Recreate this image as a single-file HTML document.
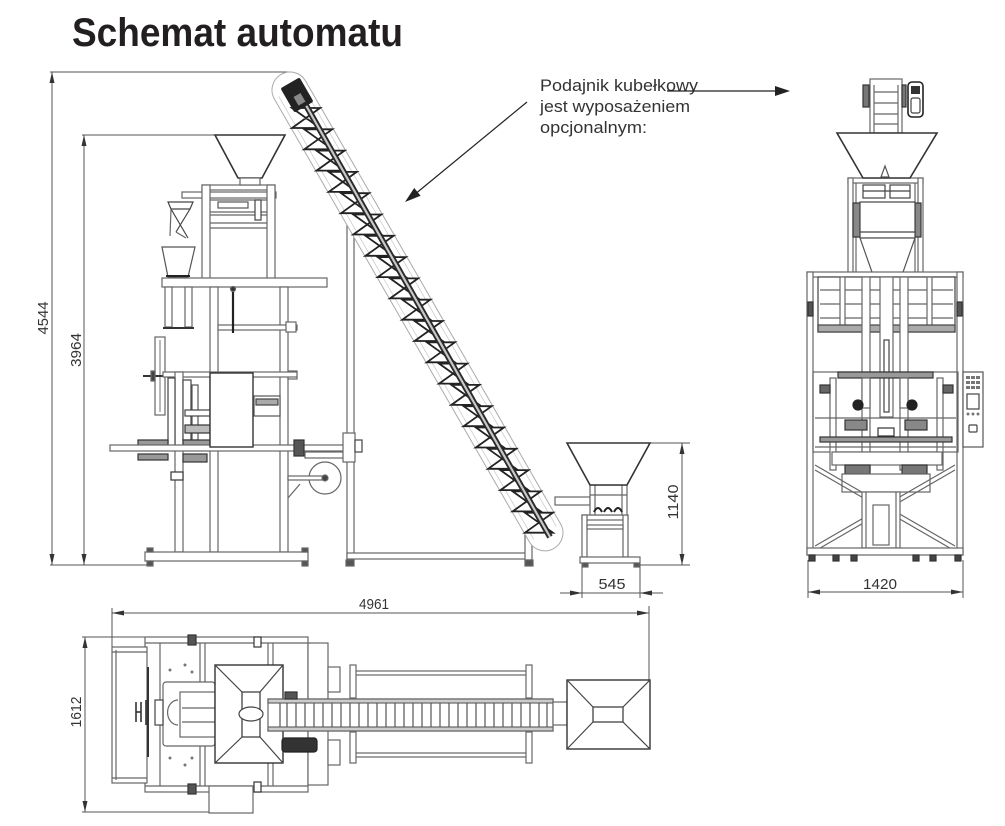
<!DOCTYPE html>
<html><head><meta charset="utf-8"><style>
html,body{margin:0;padding:0;background:#fff;}
body{width:1005px;height:826px;overflow:hidden;}
svg{display:block;}
</style></head><body>
<svg width="1005" height="826" viewBox="0 0 1005 826" xmlns="http://www.w3.org/2000/svg">
<rect width="1005" height="826" fill="#fff"/>

<!-- Title -->
<text x="72" y="46" font-family="Liberation Sans, sans-serif" font-weight="bold" font-size="40" textLength="331" lengthAdjust="spacingAndGlyphs" fill="#231f20">Schemat automatu</text>

<!-- Annotation -->
<g font-family="Liberation Sans, sans-serif" font-size="16.5" fill="#333">
<text x="540" y="91" textLength="158" lengthAdjust="spacingAndGlyphs">Podajnik kubełkowy</text>
<text x="540" y="112" textLength="150" lengthAdjust="spacingAndGlyphs">jest wyposażeniem</text>
<text x="540" y="133" textLength="107" lengthAdjust="spacingAndGlyphs">opcjonalnym:</text>
</g>
<line x1="667" y1="91" x2="776" y2="91" stroke="#222" stroke-width="1.2"/>
<polygon points="790,91 775,86 775,96" fill="#222"/>
<line x1="527" y1="102" x2="414" y2="195" stroke="#222" stroke-width="1.2"/>
<polygon points="405,202 420.6,195.8 414.2,188" fill="#222"/>

<!-- ============ DIMENSIONS ============ -->
<g stroke="#555" stroke-width="1" fill="none">
  <line x1="50" y1="72" x2="292" y2="72"/>
  <line x1="52" y1="72" x2="52" y2="565"/>
  <line x1="50" y1="565" x2="150" y2="565"/>
  <line x1="82" y1="135" x2="215" y2="135"/>
  <line x1="84" y1="135" x2="84" y2="565"/>
  <line x1="650" y1="443" x2="690" y2="443"/>
  <line x1="682" y1="443" x2="682" y2="565"/>
  <line x1="640" y1="565" x2="690" y2="565"/>
  <line x1="560" y1="593" x2="663" y2="593"/>
  <line x1="582" y1="560" x2="582" y2="598"/>
  <line x1="640" y1="563" x2="640" y2="598"/>
  <line x1="808" y1="592" x2="963" y2="592"/>
  <line x1="808" y1="560" x2="808" y2="598"/>
  <line x1="963" y1="560" x2="963" y2="598"/>
  <line x1="112" y1="613" x2="649" y2="613"/>
  <line x1="112" y1="608" x2="112" y2="647"/>
  <line x1="649" y1="606" x2="649" y2="680"/>
  <line x1="82" y1="637" x2="145" y2="637"/>
  <line x1="85" y1="637" x2="85" y2="812"/>
  <line x1="82" y1="812" x2="210" y2="812"/>
</g>
<g fill="#333">
  <polygon points="52,72 49.5,83 54.5,83"/>
  <polygon points="52,565 49.5,554 54.5,554"/>
  <polygon points="84,135 81.5,146 86.5,146"/>
  <polygon points="84,565 81.5,554 86.5,554"/>
  <polygon points="682,443 679.5,454 684.5,454"/>
  <polygon points="682,565 679.5,554 684.5,554"/>
  <polygon points="582,593 570,590.5 570,595.5"/>
  <polygon points="640,593 652,590.5 652,595.5"/>
  <polygon points="808,592 820,589.5 820,594.5"/>
  <polygon points="963,592 951,589.5 951,594.5"/>
  <polygon points="112,613 124,610.5 124,615.5"/>
  <polygon points="649,613 637,610.5 637,615.5"/>
  <polygon points="85,637 82.5,648 87.5,648"/>
  <polygon points="85,812 82.5,801 87.5,801"/>
</g>
<g font-family="Liberation Sans, sans-serif" font-size="15" fill="#333" text-anchor="middle">
  <text transform="translate(48 318) rotate(-90)" textLength="33" lengthAdjust="spacingAndGlyphs">4544</text>
  <text transform="translate(81 350) rotate(-90)" textLength="34" lengthAdjust="spacingAndGlyphs">3964</text>
  <text transform="translate(678 502) rotate(-90)" textLength="35" lengthAdjust="spacingAndGlyphs">1140</text>
  <text transform="translate(81 712) rotate(-90)" textLength="31" lengthAdjust="spacingAndGlyphs">1612</text>
  <text x="612" y="589" textLength="27" lengthAdjust="spacingAndGlyphs">545</text>
  <text x="880" y="589" textLength="34" lengthAdjust="spacingAndGlyphs">1420</text>
  <text x="374" y="609" textLength="30" lengthAdjust="spacingAndGlyphs">4961</text>
</g>

<!-- ============ LEFT MACHINE (side view) ============ -->
<g fill="#fff" stroke="#666" stroke-width="1.2">
  <rect x="182" y="192" width="94" height="6"/>
  <rect x="202" y="185" width="73" height="5"/>
  <rect x="202" y="185" width="8" height="94"/>
  <rect x="267" y="185" width="8" height="94"/>
  <line x1="210" y1="200" x2="267" y2="200"/>
  <line x1="210" y1="212" x2="267" y2="212"/>
  <line x1="210" y1="215" x2="267" y2="215"/>
  <line x1="210" y1="223" x2="267" y2="223"/>
  <line x1="210" y1="228" x2="267" y2="228"/>
  <rect x="255" y="200" width="6" height="20" stroke="#444"/>
  <rect x="218" y="202" width="30" height="6" stroke="#555"/>
  <polygon points="215,135 285,135 262,178 238,178" stroke="#333" stroke-width="1.6"/>
  <rect x="240" y="178" width="20" height="7"/>
  <polygon points="168,202 193,202 190,209 171,209" stroke="#444"/>
  <line x1="171" y1="209" x2="188" y2="238" stroke="#444"/>
  <line x1="190" y1="209" x2="176" y2="232" stroke="#444"/>
  <line x1="171" y1="209" x2="170" y2="236"/>
  <line x1="176" y1="232" x2="186" y2="238"/>
  <polygon points="162,247 195,247 188,277 168,277" stroke="#555"/>
  <line x1="166" y1="276" x2="190" y2="276" stroke="#222" stroke-width="2"/>
  <rect x="162" y="278" width="165" height="9"/>
  <rect x="165" y="287" width="7" height="40"/>
  <rect x="185" y="287" width="7" height="40"/>
  <line x1="163" y1="328" x2="194" y2="328" stroke="#333" stroke-width="2"/>
  <rect x="210" y="287" width="8" height="265"/>
  <rect x="280" y="287" width="8" height="265"/>
  <rect x="218" y="325" width="79" height="5"/>
  <rect x="286" y="322" width="10" height="10"/>
  <rect x="288" y="371" width="9" height="8"/>
  <line x1="233" y1="287" x2="233" y2="333" stroke="#222" stroke-width="2.2"/>
  <circle cx="233" cy="289" r="2.5" fill="#333"/>
  <rect x="155" y="337" width="10" height="78"/>
  <line x1="160" y1="340" x2="160" y2="412" stroke="#888"/>
  <line x1="143" y1="376" x2="172" y2="376" stroke="#333" stroke-width="2"/>
  <rect x="151" y="371" width="4" height="10" fill="#444"/>
  <rect x="163" y="372" width="134" height="5"/>
  <rect x="175" y="372" width="8" height="180"/>
  <rect x="168" y="378" width="7" height="70" stroke="#444"/>
  <rect x="183" y="380" width="8" height="60" stroke="#444"/>
  <rect x="192" y="385" width="6" height="55" stroke="#555"/>
  <rect x="185" y="410" width="25" height="6" stroke="#444"/>
  <rect x="185" y="425" width="25" height="8" fill="#bbb" stroke="#333"/>
  <rect x="138" y="440" width="30" height="6" fill="#999" stroke="#333"/>
  <rect x="183" y="440" width="27" height="6" fill="#999" stroke="#333"/>
  <rect x="138" y="454" width="30" height="6" fill="#999" stroke="#333"/>
  <rect x="183" y="454" width="24" height="8" fill="#999" stroke="#333"/>
  <rect x="171" y="472" width="12" height="8" stroke="#333"/>
  <rect x="110" y="445" width="240" height="6"/>
  <rect x="210" y="373" width="43" height="74" stroke="#333" stroke-width="1.4"/>
  <rect x="254" y="396" width="26" height="20" stroke="#555"/>
  <rect x="256" y="399" width="22" height="6" fill="#aaa" stroke="#444"/>
  <circle cx="325" cy="478" r="16"/>
  <rect x="288" y="476" width="38" height="4"/>
  <circle cx="325" cy="478" r="3" fill="#444"/>
  <line x1="288" y1="498" x2="300" y2="484"/>
  <rect x="294" y="440" width="10" height="16" fill="#555" stroke="#333"/>
  <rect x="305" y="452" width="40" height="6"/>
  <rect x="145" y="552" width="163" height="9"/>
  <rect x="147" y="548" width="6" height="4" fill="#555"/>
  <rect x="302" y="548" width="6" height="4" fill="#555"/>
  <rect x="147" y="561" width="6" height="5" fill="#555"/>
  <rect x="302" y="561" width="6" height="5" fill="#555"/>
</g>

<!-- ============ CONVEYOR ============ -->
<g fill="#fff" stroke="#666" stroke-width="1.2">
  <rect x="347" y="200" width="7" height="360"/>
  <rect x="347" y="553" width="183" height="6"/>
  <rect x="525" y="505" width="7" height="55"/>
  <rect x="346" y="560" width="8" height="6" fill="#555"/>
  <rect x="525" y="560" width="8" height="6" fill="#555"/>
  <rect x="343" y="433" width="12" height="29"/>
  <rect x="355" y="440" width="7" height="12" stroke="#444"/>
</g>
<g transform="translate(290 90) rotate(60.07)">
  <rect x="-18" y="-18" width="547" height="36" rx="18" fill="#fff" stroke="#aaa" stroke-width="1"/>
  <line x1="0" y1="-13" x2="511" y2="-13" stroke="#ccc" stroke-width="0.8"/>
  <line x1="0" y1="13" x2="511" y2="13" stroke="#ccc" stroke-width="0.8"/>
</g>
<path fill="none" stroke="#222" stroke-width="1.8" stroke-linejoin="miter" d="M292 108 h28 l-28 20 h28 z m12.26 21.3 h28 l-28 20 h28 z m12.26 21.3 h28 l-28 20 h28 z m12.26 21.3 h28 l-28 20 h28 z m12.26 21.3 h28 l-28 20 h28 z m12.26 21.3 h28 l-28 20 h28 z m12.26 21.3 h28 l-28 20 h28 z m12.26 21.3 h28 l-28 20 h28 z m12.26 21.3 h28 l-28 20 h28 z m12.26 21.3 h28 l-28 20 h28 z m12.26 21.3 h28 l-28 20 h28 z m12.26 21.3 h28 l-28 20 h28 z m12.26 21.3 h28 l-28 20 h28 z m12.26 21.3 h28 l-28 20 h28 z m12.26 21.3 h28 l-28 20 h28 z m12.26 21.3 h28 l-28 20 h28 z m12.26 21.3 h28 l-28 20 h28 z m12.26 21.3 h28 l-28 20 h28 z m12.26 21.3 h28 l-28 20 h28 z m12.26 21.3 h28 l-28 20 h28 z"/>
<line x1="303" y1="100" x2="550" y2="537" stroke="#2a2a2a" stroke-width="6"/>
<line x1="303" y1="100" x2="550" y2="537" stroke="#c8c8c8" stroke-width="2.2"/>
<g transform="translate(297 95) rotate(60)">
  <rect x="-14" y="-11" width="28" height="22" fill="#222" rx="2"/>
  <rect x="0" y="-4" width="10" height="8" fill="#888"/>
</g>

<!-- ============ SMALL HOPPER ============ -->
<g fill="#fff" stroke="#666" stroke-width="1.2">
  <rect x="555" y="497" width="35" height="8"/>
  <rect x="582" y="515" width="46" height="5"/>
  <rect x="582" y="515" width="5" height="42"/>
  <rect x="623" y="515" width="5" height="42"/>
  <rect x="587" y="525" width="36" height="4"/>
  <rect x="580" y="557" width="60" height="6"/>
  <rect x="583" y="563" width="5" height="4" fill="#555"/>
  <rect x="634" y="563" width="5" height="4" fill="#555"/>
  <rect x="590" y="485" width="37" height="30"/>
  <line x1="595" y1="485" x2="595" y2="515"/>
  <line x1="622" y1="485" x2="622" y2="515"/>
  <line x1="590" y1="495" x2="627" y2="495"/>
  <polygon points="567,443 650,443 627,485 590,485" stroke="#333" stroke-width="1.6"/>
  <path d="M594 512 q4 -8 8 0 M604 512 q4 -8 8 0 M614 512 q4 -8 8 0" stroke="#222" stroke-width="2" fill="none"/>
</g>

<!-- ============ RIGHT MACHINE (front view) ============ -->
<g fill="#fff" stroke="#666" stroke-width="1.2">
  <rect x="870" y="79" width="32" height="54"/>
  <line x1="874" y1="92" x2="898" y2="92"/>
  <line x1="874" y1="103" x2="898" y2="103"/>
  <line x1="874" y1="114" x2="898" y2="114"/>
  <line x1="874" y1="124" x2="898" y2="124"/>
  <line x1="874" y1="85" x2="874" y2="133"/>
  <line x1="898" y1="85" x2="898" y2="133"/>
  <rect x="863" y="85" width="6" height="22" fill="#777" stroke="#333"/>
  <rect x="902" y="85" width="4" height="22" fill="#777" stroke="#333"/>
  <rect x="908" y="82" width="15" height="35" rx="4" stroke="#222" stroke-width="1.6"/>
  <rect x="911" y="86" width="9" height="8" fill="#333" stroke="none"/>
  <rect x="911" y="98" width="9" height="15" rx="2" stroke="#444"/>
  <rect x="848" y="178" width="75" height="5"/>
  <rect x="848" y="178" width="5" height="97"/>
  <rect x="918" y="178" width="5" height="97"/>
  <line x1="856" y1="183" x2="856" y2="275"/>
  <line x1="915" y1="183" x2="915" y2="275"/>
  <rect x="863" y="185" width="22" height="13" stroke="#444"/>
  <rect x="890" y="185" width="20" height="13" stroke="#444"/>
  <line x1="863" y1="191" x2="910" y2="191" stroke="#444"/>
  <rect x="853" y="203" width="7" height="34" fill="#888" stroke="#333"/>
  <rect x="915" y="203" width="6" height="34" fill="#888" stroke="#333"/>
  <rect x="860" y="202" width="55" height="36" stroke="#444"/>
  <line x1="860" y1="232" x2="915" y2="232" stroke="#444"/>
  <polygon points="860,238 915,238 902,275 873,275" stroke="#555"/>
  <polygon points="837,133 937,133 910,178 863,178" stroke="#333" stroke-width="1.6"/>
  <polygon points="885,166 881,177 889,177" stroke="#555"/>
  <rect x="807" y="272" width="156" height="5"/>
  <rect x="807" y="272" width="6" height="283"/>
  <rect x="957" y="272" width="6" height="283"/>
  <rect x="818" y="277" width="137" height="55" stroke="#444"/>
  <line x1="820" y1="290" x2="953" y2="290"/>
  <line x1="820" y1="304" x2="953" y2="304"/>
  <line x1="820" y1="318" x2="953" y2="318"/>
  <rect x="840" y="277" width="5" height="50"/>
  <rect x="927" y="277" width="5" height="50"/>
  <rect x="818" y="325" width="137" height="7" fill="#aaa" stroke="#444"/>
  <rect x="808" y="302" width="5" height="14" fill="#555" stroke="#333"/>
  <rect x="957" y="302" width="5" height="14" fill="#555" stroke="#333"/>
  <rect x="862" y="277" width="8" height="193"/>
  <rect x="900" y="277" width="8" height="193"/>
  <rect x="880" y="277" width="13" height="140"/>
  <rect x="884" y="340" width="5" height="72" stroke="#444"/>
  <rect x="813" y="372" width="145" height="80" fill="none"/>
  <rect x="838" y="372" width="95" height="6" fill="#999" stroke="#333"/>
  <rect x="830" y="378" width="6" height="92"/>
  <rect x="937" y="378" width="6" height="92"/>
  <rect x="862" y="378" width="8" height="30"/>
  <rect x="900" y="378" width="8" height="30"/>
  <circle cx="858" cy="405" r="5" fill="#222" stroke="#222"/>
  <circle cx="912" cy="405" r="5" fill="#222" stroke="#222"/>
  <rect x="820" y="385" width="10" height="8" fill="#666" stroke="#333"/>
  <rect x="943" y="385" width="10" height="8" fill="#666" stroke="#333"/>
  <line x1="815" y1="418" x2="956" y2="418"/>
  <rect x="820" y="437" width="132" height="5" fill="#999" stroke="#333"/>
  <line x1="815" y1="447" x2="956" y2="447"/>
  <rect x="845" y="420" width="22" height="10" fill="#888" stroke="#333"/>
  <rect x="905" y="420" width="22" height="10" fill="#888" stroke="#333"/>
  <rect x="878" y="428" width="16" height="8" stroke="#333"/>
  <rect x="832" y="452" width="110" height="13"/>
  <rect x="845" y="465" width="25" height="9" fill="#777" stroke="#333"/>
  <rect x="902" y="465" width="25" height="9" fill="#777" stroke="#333"/>
  <rect x="842" y="474" width="88" height="18"/>
  <g stroke="#666" stroke-width="1.2">
    <line x1="815" y1="465" x2="955" y2="546"/>
    <line x1="815" y1="470" x2="955" y2="551"/>
    <line x1="955" y1="465" x2="815" y2="546"/>
    <line x1="955" y1="470" x2="815" y2="551"/>
  </g>
  <rect x="862" y="492" width="38" height="56"/>
  <rect x="873" y="505" width="16" height="40"/>
  <line x1="866" y1="492" x2="866" y2="548"/>
  <line x1="896" y1="492" x2="896" y2="548"/>
  <rect x="807" y="548" width="156" height="7"/>
  <g fill="#444" stroke="#333">
    <rect x="809" y="555" width="6" height="6"/>
    <rect x="833" y="555" width="6" height="6"/>
    <rect x="851" y="555" width="6" height="6"/>
    <rect x="913" y="555" width="6" height="6"/>
    <rect x="930" y="555" width="6" height="6"/>
    <rect x="955" y="555" width="6" height="6"/>
  </g>
  <rect x="963" y="372" width="20" height="75" stroke="#555"/>
  <g fill="#777" stroke="none">
    <rect x="966" y="376" width="4" height="3"/><rect x="971" y="376" width="4" height="3"/><rect x="976" y="376" width="4" height="3"/>
    <rect x="966" y="381" width="4" height="3"/><rect x="971" y="381" width="4" height="3"/><rect x="976" y="381" width="4" height="3"/>
    <rect x="966" y="386" width="4" height="3"/><rect x="971" y="386" width="4" height="3"/><rect x="976" y="386" width="4" height="3"/>
    <circle cx="968" cy="414" r="1.5"/><circle cx="973" cy="414" r="1.5"/><circle cx="978" cy="414" r="1.5"/>
  </g>
  <rect x="967" y="394" width="12" height="15" stroke="#444"/>
  <rect x="969" y="425" width="8" height="7" rx="1" stroke="#444"/>
</g>

<!-- ============ TOP VIEW ============ -->
<g fill="#fff" stroke="#666" stroke-width="1.2">
  <rect x="145" y="637" width="163" height="155"/>
  <rect x="308" y="643" width="20" height="142"/>
  <rect x="112" y="647" width="35" height="136"/>
  <line x1="116" y1="650" x2="116" y2="780"/>
  <line x1="112" y1="652" x2="147" y2="652"/>
  <line x1="112" y1="778" x2="147" y2="778"/>
  <line x1="145" y1="643" x2="308" y2="643"/>
  <line x1="145" y1="786" x2="308" y2="786"/>
  <line x1="160" y1="643" x2="160" y2="786"/>
  <line x1="200" y1="643" x2="200" y2="786"/>
  <line x1="205" y1="643" x2="205" y2="786"/>
  <line x1="268" y1="643" x2="268" y2="786"/>
  <line x1="273" y1="643" x2="273" y2="786"/>
  <line x1="148" y1="667" x2="148" y2="757" stroke="#333" stroke-width="2"/>
  <rect x="163" y="682" width="52" height="64" rx="3"/>
  <rect x="180" y="692" width="35" height="45"/>
  <line x1="182" y1="708" x2="215" y2="708"/>
  <line x1="182" y1="722" x2="215" y2="722"/>
  <path d="M178 700 a10 12 0 0 0 0 25" />
  <g stroke="#333" stroke-width="1.6">
    <line x1="136" y1="702" x2="136" y2="722"/>
    <line x1="141" y1="702" x2="141" y2="722"/>
    <line x1="136" y1="712" x2="141" y2="712"/>
    <line x1="146" y1="700" x2="146" y2="725"/>
  </g>
  <rect x="155" y="700" width="8" height="25" stroke="#444"/>
  <g fill="#777" stroke="none">
    <circle cx="170" cy="670" r="1.5"/><circle cx="185" cy="665" r="1.5"/><circle cx="192" cy="672" r="1.5"/>
    <circle cx="170" cy="758" r="1.5"/><circle cx="185" cy="765" r="1.5"/><circle cx="192" cy="758" r="1.5"/>
  </g>
  <rect x="188" y="635" width="8" height="10" fill="#555" stroke="#333"/>
  <rect x="188" y="784" width="8" height="10" fill="#555" stroke="#333"/>
  <rect x="254" y="637" width="7" height="10" stroke="#333"/>
  <rect x="254" y="782" width="7" height="10" stroke="#333"/>
  <rect x="328" y="667" width="12" height="25"/>
  <rect x="328" y="740" width="12" height="25"/>
  <rect x="209" y="786" width="44" height="27"/>
  <rect x="215" y="665" width="68" height="98" stroke="#333" stroke-width="1.4"/>
  <rect x="242" y="692" width="18" height="45" stroke="#333"/>
  <g stroke="#444">
    <line x1="215" y1="665" x2="242" y2="692"/>
    <line x1="283" y1="665" x2="260" y2="692"/>
    <line x1="215" y1="763" x2="242" y2="737"/>
    <line x1="283" y1="763" x2="260" y2="737"/>
  </g>
  <ellipse cx="251" cy="714" rx="12" ry="7" stroke="#444"/>
  <rect x="268" y="699" width="285" height="32"/>
  <rect x="268" y="699" width="285" height="4" fill="#ccc"/>
  <rect x="268" y="727" width="285" height="4" fill="#ccc"/>
  <path stroke="#555" d="M280 703 V727 M287 703 V727 M296 703 V727 M305 703 V727 M314 703 V727 M323 703 V727 M332 703 V727 M341 703 V727 M350 703 V727 M359 703 V727 M368 703 V727 M377 703 V727 M386 703 V727 M395 703 V727 M404 703 V727 M413 703 V727 M422 703 V727 M431 703 V727 M440 703 V727 M449 703 V727 M458 703 V727 M467 703 V727 M476 703 V727 M485 703 V727 M494 703 V727 M503 703 V727 M512 703 V727 M521 703 V727 M530 703 V727 M539 703 V727 M547 703 V727"/>
  <rect x="553" y="702" width="14" height="23"/>
  <rect x="282" y="738" width="35" height="14" rx="3" fill="#333" stroke="#222"/>
  <rect x="285" y="692" width="12" height="7" fill="#555" stroke="#333"/>
  <rect x="353" y="671" width="174" height="4"/>
  <rect x="353" y="753" width="174" height="4"/>
  <rect x="350" y="665" width="6" height="33"/>
  <rect x="350" y="732" width="6" height="31"/>
  <rect x="526" y="665" width="6" height="33"/>
  <rect x="526" y="732" width="6" height="31"/>
  <rect x="567" y="680" width="83" height="69" stroke="#333" stroke-width="1.4"/>
  <rect x="593" y="707" width="30" height="15" stroke="#333"/>
  <g stroke="#444">
    <line x1="567" y1="680" x2="593" y2="707"/>
    <line x1="650" y1="680" x2="623" y2="707"/>
    <line x1="567" y1="749" x2="593" y2="722"/>
    <line x1="650" y1="749" x2="623" y2="722"/>
  </g>
</g>
</svg>
</body></html>
